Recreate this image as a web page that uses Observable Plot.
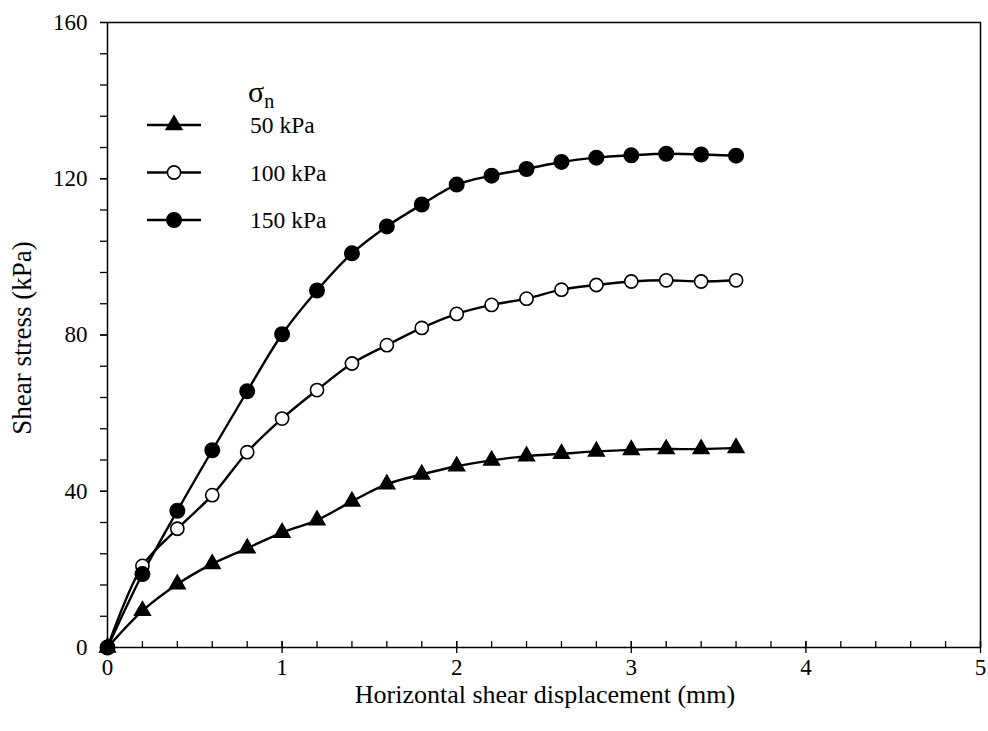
<!DOCTYPE html>
<html>
<head>
<meta charset="utf-8">
<script src="https://cdn.jsdelivr.net/npm/d3@7"></script>
<script src="https://cdn.jsdelivr.net/npm/@observablehq/plot@0.6"></script>
<style>
  html, body { margin: 0; padding: 0; background: #fff; }
  #chart { position: relative; width: 988px; height: 731px; }
  #chart svg, #chart svg text { font-family: 'Liberation Serif', 'Times New Roman', serif !important; }
</style>
</head>
<body>
<div id="chart"></div>
<script>
// ---- data ----
const displacement = [0, 0.2, 0.4, 0.6, 0.8, 1.0, 1.2, 1.4, 1.6, 1.8, 2.0, 2.2, 2.4, 2.6, 2.8, 3.0, 3.2, 3.4, 3.6];
const stress50  = [0, 9.4, 16.2, 21.4, 25.4, 29.4, 32.6, 37.4, 41.8, 44.3, 46.4, 47.9, 49.0, 49.6, 50.2, 50.6, 50.8, 50.8, 51.1];
const stress100 = [0, 20.9, 30.4, 39.0, 50.0, 58.6, 65.9, 72.7, 77.4, 81.8, 85.4, 87.7, 89.3, 91.6, 92.8, 93.7, 94.0, 93.7, 94.0];
const stress150 = [0, 18.8, 35.0, 50.5, 65.6, 80.2, 91.4, 100.9, 107.8, 113.4, 118.5, 120.8, 122.5, 124.3, 125.4, 126.0, 126.4, 126.2, 125.9];
const seriesNames = ["50 kPa", "100 kPa", "150 kPa"];
const xMajorTicks = [0, 1, 2, 3, 4, 5];
const xMinorTicks = d3.range(0, 26).map(i => i / 5);
const yMajorTicks = [0, 40, 80, 120, 160];
const yMinorTicks = d3.range(0, 21).map(i => i * 8);

const styles = {
  "50 kPa":  {symbol: "triangle", fill: "black", r: 5.8},
  "100 kPa": {symbol: "circle", fill: "white", r: 6.6},
  "150 kPa": {symbol: "circle", fill: "black", r: 7.2}
};

const rows = [];
[stress50, stress100, stress150].forEach((vals, si) => {
  vals.forEach((v, i) => rows.push({series: seriesNames[si], x: displacement[i], y: v}));
});

const font = "'Liberation Serif', 'Times New Roman', serif";
const fmt = d3.format("d");

const marks = [
  Plot.frame({stroke: "black", strokeWidth: 1.5}),
  // y axis: outward ticks
  Plot.axisY({ticks: yMinorTicks, tickSize: 7, tickFormat: () => "", strokeWidth: 1.3, label: null}),
  Plot.axisY({ticks: yMajorTicks, tickSize: 7, tickPadding: 13, tickFormat: fmt, fontSize: 23, strokeWidth: 1.3, label: null}),
  // x axis: inward minor ticks, crossing major ticks
  Plot.axisX({ticks: xMinorTicks, tickSize: -6, tickFormat: () => "", strokeWidth: 1.3, label: null}),
  Plot.axisX({ticks: xMajorTicks, tickSize: -6, tickFormat: () => "", strokeWidth: 1.3, label: null}),
  Plot.axisX({ticks: xMajorTicks, tickSize: 6, tickPadding: 5, tickFormat: fmt, fontSize: 23, strokeWidth: 1.3, label: null}),
];

for (const name of seriesNames) {
  const d = rows.filter(r => r.series === name);
  marks.push(Plot.line(d, {x: "x", y: "y", stroke: "black", strokeWidth: 2.4, curve: "catmull-rom"}));
}
for (const name of seriesNames) {
  const d = rows.filter(r => r.series === name);
  const st = styles[name];
  marks.push(Plot.dot(d, {x: "x", y: "y", symbol: () => st.symbol, r: st.r,
    fill: st.fill, stroke: "black", strokeWidth: 1.6}));
}

const chart = Plot.plot({
  width: 988,
  height: 731,
  marginLeft: 107,
  marginRight: 8,
  marginTop: 22,
  marginBottom: 84,
  style: {fontFamily: font, fontSize: "23px", color: "black", background: "white", overflow: "visible"},
  x: {domain: [0, 5]},
  y: {domain: [0, 160]},
  symbol: {type: "identity"},
  marks
});

document.getElementById("chart").appendChild(chart);

// axis titles
const svg = d3.select(chart);
svg.append("text")
  .attr("x", 545).attr("y", 703)
  .attr("text-anchor", "middle")
  .style("font-size", "26px").style("font-family", font).attr("fill", "black")
  .text("Horizontal shear displacement (mm)");
svg.append("text")
  .attr("transform", "translate(31,338) rotate(-90)")
  .attr("text-anchor", "middle")
  .style("font-size", "27px").style("font-family", font).attr("fill", "black")
  .text("Shear stress (kPa)");

// legend
const lg = svg.append("g").attr("fill", "black");
const sig = lg.append("text").attr("x", 248).attr("y", 102).attr("text-anchor", "start")
  .style("font-size", "30px").style("font-family", font);
sig.append("tspan").text("σ");
sig.append("tspan").style("font-size", "20px").attr("dy", 6).text("n");
seriesNames.forEach((name, i) => {
  const cy = 125 + i * 47.5;
  const st = styles[name];
  lg.append("line").attr("x1", 147).attr("x2", 201).attr("y1", cy).attr("y2", cy)
    .attr("stroke", "black").attr("stroke-width", 2.4);
  const sym = st.symbol === "triangle" ? d3.symbolTriangle : d3.symbolCircle;
  lg.append("path").attr("d", d3.symbol(sym, Math.PI * st.r * st.r)())
    .attr("transform", `translate(174,${cy})`)
    .attr("fill", st.fill).attr("stroke", "black").attr("stroke-width", 1.6);
  lg.append("text").attr("x", 250).attr("y", cy + 8).attr("text-anchor", "start")
    .style("font-size", "23.5px").style("font-family", font).text(name);
});
</script>
</body>
</html>
